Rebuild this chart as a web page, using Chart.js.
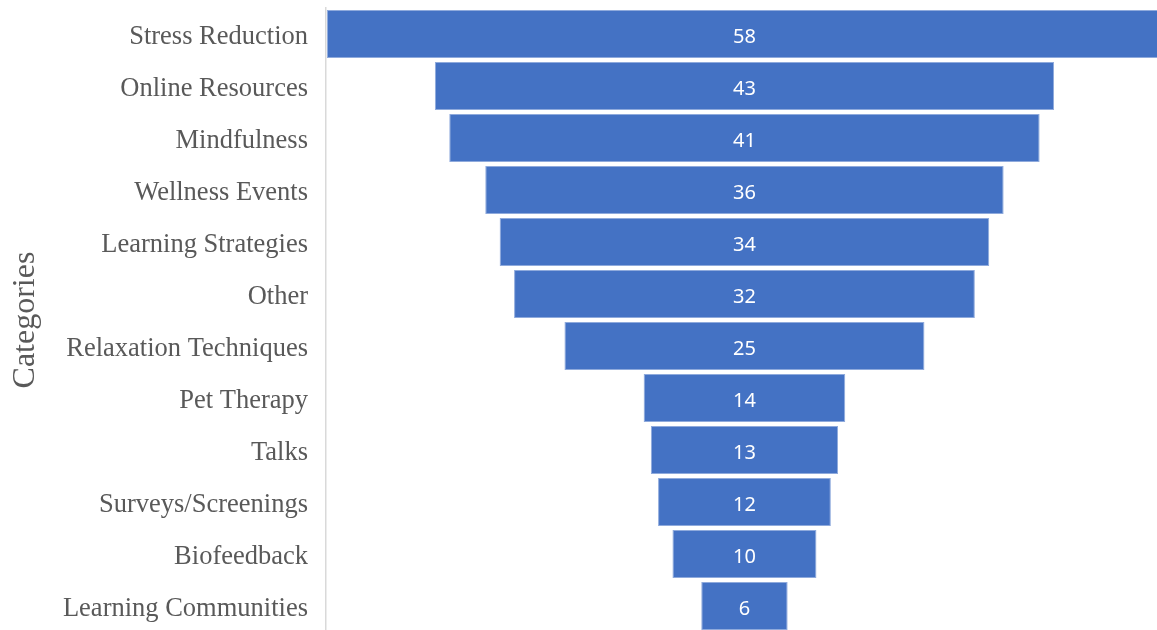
<!DOCTYPE html>
<html>
<head>
<meta charset="utf-8">
<script src="https://cdn.jsdelivr.net/npm/chart.js@4.4.1/dist/chart.umd.min.js"></script>
<style>
    html, body { margin: 0; padding: 0; background: #fff; overflow: hidden; }
    #wrap { position: relative; width: 1157px; height: 632px; }
</style>
</head>
<body>
<div id="wrap"><canvas id="funnel"></canvas></div>
<script>
const categories = [
    'Stress Reduction', 'Online Resources', 'Mindfulness', 'Wellness Events',
    'Learning Strategies', 'Other', 'Relaxation Techniques', 'Pet Therapy',
    'Talks', 'Surveys/Screenings', 'Biofeedback', 'Learning Communities'
];
const counts = [58, 43, 41, 36, 34, 32, 25, 14, 13, 12, 10, 6];
const axisTitle = 'Categories';

// funnel: every bar is centred on 0
const spans = counts.map(v => [-v / 2, v / 2]);

// white value labels in the middle of each bar
const valueLabels = {
    id: 'valueLabels',
    afterDatasetsDraw(chart) {
        const ctx = chart.ctx;
        const meta = chart.getDatasetMeta(0);
        ctx.save();
        ctx.fillStyle = '#ffffff';
        ctx.font = '20px "Noto Sans", "Open Sans", sans-serif';
        ctx.textAlign = 'center';
        ctx.textBaseline = 'middle';
        meta.data.forEach((bar, i) => {
            const x = chart.scales.x.getPixelForValue(0);
            ctx.fillText(String(counts[i]), x, bar.y + 3);
        });
        ctx.restore();
    }
};

new Chart(document.getElementById('funnel'), {
    type: 'bar',
    data: {
        labels: categories,
        datasets: [{
            data: spans,
            backgroundColor: '#4472C4',
            borderColor: '#8FAADC',
            borderWidth: 1,
            borderSkipped: false,
            categoryPercentage: 1,
            barPercentage: 0.92
        }]
    },
    options: {
        indexAxis: 'y',
        responsive: true,
        maintainAspectRatio: false,
        animation: false,
        layout: { padding: { top: 8, right: 0, bottom: 0, left: 0 } },
        plugins: {
            legend: { display: false },
            tooltip: { enabled: false }
        },
        scales: {
            x: {
                display: false,
                min: -29.06,
                max: 28.65
            },
            y: {
                grid: { display: false, drawTicks: false },
                border: { display: true, color: '#D9D9D9', width: 1.5 },
                ticks: {
                    color: '#595959',
                    padding: 18,
                    labelOffset: 3,
                    font: { family: '"Liberation Serif", "Times New Roman", serif', size: 26.5 }
                },
                title: {
                    display: true,
                    text: axisTitle,
                    color: '#595959',
                    padding: { top: 6, bottom: 0 },
                    font: { family: '"Liberation Serif", "Times New Roman", serif', size: 32 }
                },
                afterFit(scale) {
                    scale.width = 326;
                    // labels sit inside the category bands, no extra room needed
                    scale.paddingTop = 0;
                    scale.paddingBottom = 0;
                }
            }
        }
    },
    plugins: [valueLabels]
});
</script>
</body>
</html>
